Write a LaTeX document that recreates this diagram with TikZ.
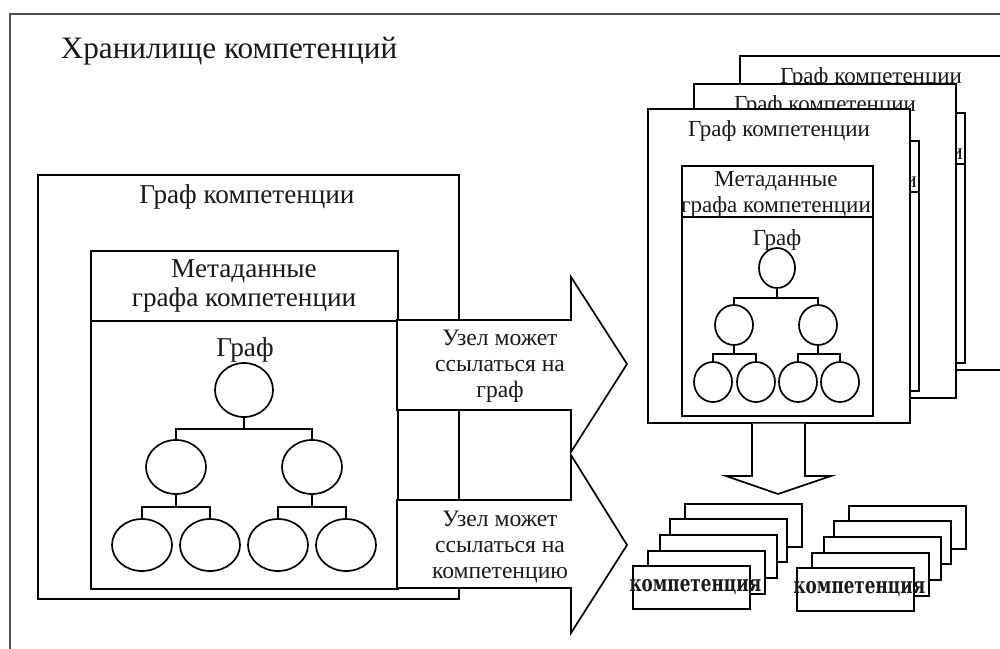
\documentclass[tikz,border=0pt]{standalone}
\usepackage{fontspec}
\usepackage{graphicx}
\setmainfont{Liberation Serif}
\newfontfamily\cardfont{DejaVu Serif}
\usetikzlibrary{shapes.geometric,calc}

% one "competence graph" card: frame, title, metadata box, graph box and tree
\newcommand\graphcard[3]{%
  \begin{scope}[shift={(#1,#2)}, name prefix=#3-]
    \node[box, anchor=north west, minimum width=131pt, minimum height=157pt] (frame) at (647,108) {};
    \node[small] (title) at (779,131) {Граф компетенции};
    \node[box, anchor=north west, minimum width=95.5pt, minimum height=25.5pt] (meta) at (681,165) {};
    \node[box, anchor=north west, minimum width=95.5pt, minimum height=99.5pt] (graph) at (681,216) {};
    \node[small, align=center] (metatext) at (776,194) {Метаданные\\графа компетенции};
    \node[small] (gl) at (777,240) {Граф};
    \node[svert, minimum width=18pt, minimum height=20pt] (t) at (777,268) {};
    \node[svert] (m1) at (734,325) {};
    \node[svert] (m2) at (818,325) {};
    \node[svert] (b1) at (713,382) {};
    \node[svert] (b2) at (756,382) {};
    \node[svert] (b3) at (798,382) {};
    \node[svert] (b4) at (840,382) {};
    \draw (t.south) -- ++(0,9) -| (m1.north);
    \draw (t.south) -- ++(0,9) -| (m2.north);
    \draw (m1.south) -- ++(0,8) -| (b1.north);
    \draw (m1.south) -- ++(0,8) -| (b2.north);
    \draw (m2.south) -- ++(0,8) -| (b3.north);
    \draw (m2.south) -- ++(0,8) -| (b4.north);
  \end{scope}}

% a stack of five competence cards, front card at (#1,#2)
\newcommand\cardstack[3]{%
  \begin{scope}[shift={(#1,#2)}, name prefix=#3-]
    \node[ccard] (c5) at (52,-62) {};
    \node[ccard] (c4) at (37,-47) {};
    \node[ccard] (c3) at (27,-31) {};
    \node[ccard] (c2) at (15,-15) {};
    \node[ccard] (c1) at (0,0) {};
    \node[font=\cardfont\bfseries\fontsize{8.4}{10}\selectfont, inner sep=0pt] (ct) at ($(c1.center)+(4,0)$) {\scalebox{1}[1.35]{компетенция}};
  \end{scope}}

\begin{document}
\begin{tikzpicture}[x=0.5pt, y=-0.5pt, line width=0.85pt,
  every node/.style={text=black!90},
  box/.style={draw, fill=white, inner sep=0pt},
  big/.style={font=\fontsize{13.6}{14.5}\selectfont, inner sep=0pt},
  small/.style={font=\fontsize{11.5}{13}\selectfont, inner sep=0pt},
  note/.style={font=\fontsize{11.8}{13}\selectfont, inner sep=0pt, align=center},
  vert/.style={draw, fill=white, ellipse, inner sep=0pt, minimum width=30pt, minimum height=27pt},
  svert/.style={draw, fill=white, ellipse, inner sep=0pt, minimum width=19pt, minimum height=20pt},
  ccard/.style={draw, fill=white, inner sep=0pt, anchor=north west, minimum width=58.5pt, minimum height=21.5pt},
  shell/.style={draw=black!70, line width=1pt}]
\useasboundingbox (0,0) rectangle (1000,648);
\clip (0,0) rectangle (1000,648);

% storage frame
\draw[shell] (10,700) -- (10,14) -- (1050,14);
\node[font=\fontsize{15.6}{17}\selectfont, inner sep=0pt] (store) at (229,51) {Хранилище компетенций};

% left competence graph
\node[box, anchor=north west, minimum width=210.5pt, minimum height=212pt] (lframe) at (37,174) {};
\node[big] (ltitle) at (247,197) {Граф компетенции};
\node[box, anchor=north west, minimum width=153.5pt, minimum height=35pt] (lmeta) at (90,250) {};
\node[box, anchor=north west, minimum width=153.5pt, minimum height=134pt] (lgraph) at (90,320) {};
\node[big, align=center] (lmetatext) at (244,286) {Метаданные\\графа компетенции};
\node[big] (lgl) at (245,350) {Граф};
\node[vert, minimum width=29pt] (t) at (244,390) {};
\node[vert] (m1) at (176,467) {};
\node[vert] (m2) at (312,467) {};
\node[vert, minimum height=26pt] (b1) at (142,545) {};
\node[vert, minimum height=26pt] (b2) at (210,545) {};
\node[vert, minimum height=26pt] (b3) at (278,545) {};
\node[vert, minimum height=26pt] (b4) at (346,545) {};
\draw (t.south) -- ++(0,11) -| (m1.north);
\draw (t.south) -- ++(0,11) -| (m2.north);
\draw (m1.south) -- ++(0,12) -| (b1.north);
\draw (m1.south) -- ++(0,12) -| (b2.north);
\draw (m2.south) -- ++(0,12) -| (b3.north);
\draw (m2.south) -- ++(0,12) -| (b4.north);

% reference arrows
\draw[fill=white] (397,320) -- (571,320) -- (571,277) -- (627,364) -- (571,452) -- (571,410) -- (397,410) -- cycle;
\node[note] (refgraph) at (500,366) {Узел может\\ссылаться на\\граф};
\draw[fill=white] (397,500) -- (571,500) -- (571,455) -- (627,545) -- (571,633) -- (571,588) -- (397,588) -- cycle;
\node[note] (refcomp) at (500,547) {Узел может\\ссылаться на\\компетенцию};

% stacked graph cards, back to front
\graphcard{92}{-53}{back}
\graphcard{46}{-25}{mid}
\graphcard{0}{0}{front}

% arrow from the cards down to the competences
\draw[fill=white] (front-frame.south -| 752,0) -- (752,476) -- (726,476) -- (778,494) -- (831,476) -- (805,476) -- (front-frame.south -| 805,0);

% competence stacks
\cardstack{632}{565}{left}
\cardstack{796}{567}{right}
\end{tikzpicture}
\end{document}
